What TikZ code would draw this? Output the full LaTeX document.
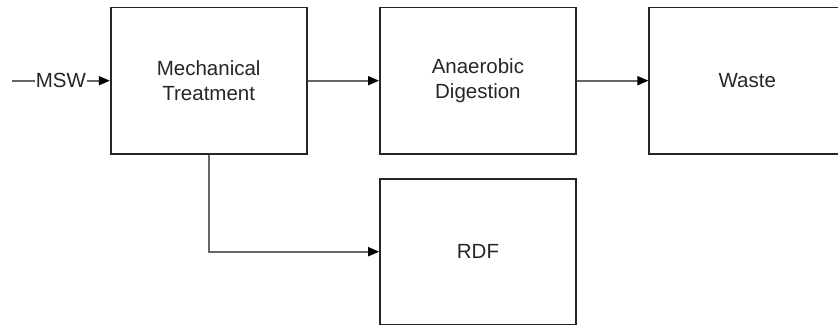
\documentclass[tikz,border=0pt]{standalone}
\usepackage{fontspec}
\setmainfont{Liberation Sans}
\usetikzlibrary{arrows.meta}
\begin{document}
\begin{tikzpicture}[x=1pt,y=-1pt,
  stage/.style={draw=black!85, line width=1.7pt, minimum width=196pt,
    minimum height=146.5pt, inner sep=0pt, align=center,
    font=\fontsize{20.5}{25}\selectfont, text=black!85},
  flow/.style={draw=black!60, line width=1.7pt,
    -{Triangle[length=11pt,width=9pt,color=black]}},
  lbl/.style={fill=white, inner sep=1pt, font=\fontsize{20.5}{25}\selectfont, text=black!85}]
  \useasboundingbox (0,0) rectangle (838,326);
  \clip (0,0) rectangle (838,326);
  % process stages
  \node[stage] (mech) at (208.7,80.7) {Mechanical\\Treatment};
  \node[stage] (ad)   at (477.9,80.7) {Anaerobic\\Digestion};
  \node[stage] (waste) at (747.3,80.7) {Waste};
  \node[stage, minimum height=145.3pt] (rdf) at (478,251.7) {RDF};
  % incoming stream
  \coordinate (in) at (12,80.7);
  \draw[flow] (in) -- node[lbl] {MSW} (mech.west);
  % connections between stages
  \draw[flow] (mech.east) -- (ad.west);
  \draw[flow] (ad.east) -- (waste.west);
  \draw[flow] (mech.south) |- (rdf.west);
\end{tikzpicture}
\end{document}
